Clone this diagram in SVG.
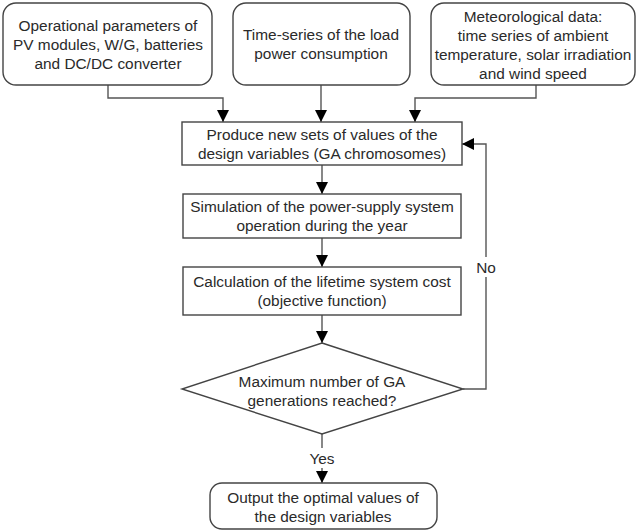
<svg xmlns="http://www.w3.org/2000/svg" width="638" height="532" viewBox="0 0 638 532">
<defs>
<style>
.box{fill:#fff;stroke:#444;stroke-width:1.4}
.ln{fill:none;stroke:#555;stroke-width:1.4}
text{font-family:"Liberation Sans",Arial,sans-serif;font-size:15.4px;fill:#2a2a2a;text-anchor:middle}
</style>
<marker id="ah" markerWidth="12" markerHeight="12" viewBox="0 0 12 12" refX="12" refY="6" orient="auto" markerUnits="userSpaceOnUse">
<path d="M0,0 L12,6 L0,12 Z" fill="#000"/>
</marker>
</defs>
<rect width="638" height="532" fill="#fff"/>
<g id="connectors">
<path class="ln" d="M108,85 V98 H223 V122" marker-end="url(#ah)"/>
<path class="ln" d="M321,85 V122" marker-end="url(#ah)"/>
<path class="ln" d="M536,85 V98 H415 V122" marker-end="url(#ah)"/>
<path class="ln" d="M322,165 V194" marker-end="url(#ah)"/>
<path class="ln" d="M322,238 V267" marker-end="url(#ah)"/>
<path class="ln" d="M322,315 V343" marker-end="url(#ah)"/>
<path class="ln" d="M463,389 H486 V144 H462" marker-end="url(#ah)"/>
<path class="ln" d="M322,434 V483" marker-end="url(#ah)"/>
<rect x="473" y="257" width="26" height="20" fill="#fff"/>
<text x="486" y="273">No</text>
<rect x="307" y="448" width="30" height="20" fill="#fff"/>
<text x="322" y="464">Yes</text>
</g>
<g id="op-params">
<rect class="box" x="3" y="3" width="209" height="82" rx="13"/>
<text x="108" y="30.5">Operational parameters of</text>
<text x="108" y="49.5">PV modules, W/G, batteries</text>
<text x="108" y="68.5">and DC/DC converter</text>
</g>
<g id="load">
<rect class="box" x="233" y="3" width="177" height="82" rx="13"/>
<text x="321" y="39.5">Time-series of the load</text>
<text x="321" y="58.5">power consumption</text>
</g>
<g id="meteo">
<rect class="box" x="431" y="3" width="204" height="82" rx="13"/>
<text x="533" y="21.5">Meteorological data:</text>
<text x="533" y="40.5">time series of ambient</text>
<text x="533" y="59.5">temperature, solar irradiation</text>
<text x="533" y="78.5">and wind speed</text>
</g>
<g id="produce">
<rect class="box" x="182" y="122" width="280" height="43"/>
<text x="322" y="139.5">Produce new sets of values of the</text>
<text x="322" y="158.5">design variables (GA chromosomes)</text>
</g>
<g id="simulation">
<rect class="box" x="183" y="194" width="278" height="44"/>
<text x="322" y="211.5">Simulation of the power-supply system</text>
<text x="322" y="230.5">operation during the year</text>
</g>
<g id="calculation">
<rect class="box" x="183" y="267" width="278" height="48"/>
<text x="322" y="286.5">Calculation of the lifetime system cost</text>
<text x="322" y="305.5">(objective function)</text>
</g>
<g id="decision">
<polygon class="box" points="322,343 463,389 322,434 182,389"/>
<text x="322" y="386.5">Maximum number of GA</text>
<text x="322" y="405.5">generations reached?</text>
</g>
<g id="output">
<rect class="box" x="210" y="483" width="227" height="46" rx="12"/>
<text x="323" y="502.5">Output the optimal values of</text>
<text x="323" y="521.5">the design variables</text>
</g>
</svg>
